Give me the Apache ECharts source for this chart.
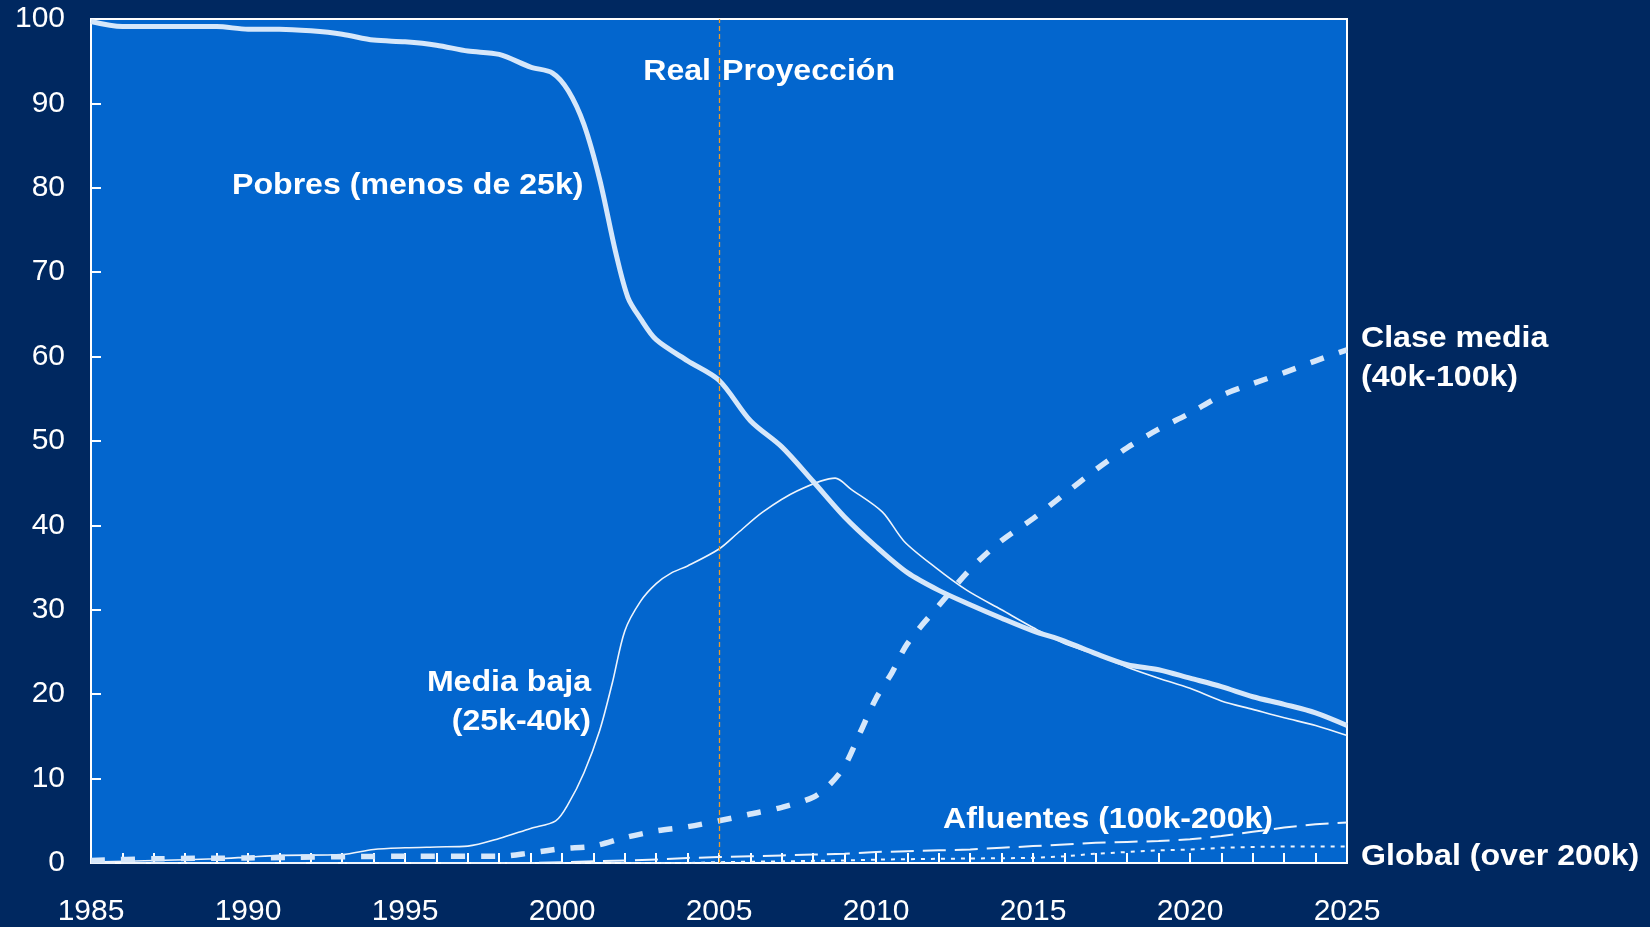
<!DOCTYPE html>
<html>
<head>
<meta charset="utf-8">
<script src="https://cdn.jsdelivr.net/npm/echarts@6.0.0/dist/echarts.min.js"></script>
<style>
  html, body { margin: 0; padding: 0; background: #002860; }
  #chart { width: 1650px; height: 927px; }
</style>
</head>
<body>
<div id="chart"></div>
<script>
// Datos: [año, porcentaje]
const pobres = [
  [1985, 99.7], [1986, 99.1], [1987, 99.1], [1988, 99.1], [1989, 99.1], [1990, 98.8],
  [1991, 98.8], [1992, 98.6], [1993, 98.2], [1994, 97.5], [1995, 97.3], [1996, 96.9],
  [1997, 96.2], [1998, 95.8], [1999, 94.3], [1999.7, 93.6], [2000.2, 91.5], [2000.7, 87.5],
  [2001.2, 81], [2001.7, 72.5], [2002.1, 67], [2002.5, 64.5], [2003, 62], [2004, 59.5],
  [2005, 57.2], [2006, 52.4], [2007, 49.3], [2008, 45.2], [2009, 41], [2010, 37.5],
  [2011, 34.4], [2012, 32.3], [2013, 30.6], [2014, 29], [2015, 27.5], [2016, 26.3],
  [2017, 24.8], [2018, 23.5], [2019, 22.9], [2020, 21.9], [2021, 20.9], [2022, 19.7],
  [2023, 18.8], [2024, 17.8], [2025, 16.3]
];

const mediaBaja = [
  [1985, 0.1], [1987, 0.3], [1989, 0.5], [1990, 0.7], [1991, 0.9], [1993, 1.0],
  [1994, 1.6], [1995, 1.8], [1996, 1.9], [1997, 2.0], [1998, 2.9], [1999, 4.1],
  [1999.8, 5], [2000.2, 7], [2000.7, 10.7], [2001.2, 15.7], [2001.6, 21.3], [2002, 27.5],
  [2002.5, 31], [2003, 33.1], [2003.5, 34.4], [2004, 35.2], [2005, 37.2], [2005.6, 39.1],
  [2006.4, 41.6], [2007.5, 44.1], [2008.7, 45.6], [2009.2, 44.3], [2010.2, 41.6],
  [2010.9, 38.1], [2011.9, 35], [2012.9, 32.3], [2014, 30], [2015, 27.9], [2016, 26],
  [2017, 24.7], [2018, 23.2], [2019, 21.9], [2020, 20.7], [2021, 19.2], [2022, 18.2],
  [2023, 17.2], [2024, 16.3], [2025, 15.1]
];

const claseMedia = [
  [1985, 0.3], [1987, 0.5], [1990, 0.6], [1995, 0.8], [1998, 0.8], [1999, 1.2],
  [2000, 1.7], [2001, 2.0], [2002, 3.0], [2003, 3.8], [2004, 4.3], [2005, 5.0],
  [2006, 5.8], [2007, 6.6], [2008, 7.8], [2008.5, 9.2], [2009, 11.5], [2009.5, 15.5],
  [2010, 19.5], [2010.5, 22.5], [2011, 26], [2012, 30.5], [2013, 34.8], [2014, 38.2],
  [2015, 40.8], [2016, 43.7], [2017, 46.6], [2018, 49.2], [2019, 51.4], [2020, 53.3],
  [2021, 55.4], [2022, 56.8], [2023, 58.1], [2024, 59.5], [2025, 60.8]
];

const afluentes = [
  [1985, 0], [1999, 0], [2000, 0.1], [2002, 0.3], [2003, 0.4], [2004, 0.6], [2005, 0.7],
  [2006, 0.8], [2007, 0.9], [2008, 1.0], [2009, 1.1], [2010, 1.3], [2011, 1.4],
  [2012, 1.5], [2013, 1.6], [2014, 1.8], [2015, 2.0], [2016, 2.2], [2017, 2.4],
  [2018, 2.5], [2019, 2.6], [2020, 2.8], [2021, 3.2], [2022, 3.7], [2023, 4.2],
  [2024, 4.6], [2025, 4.8]
];

const global = [
  [1985, 0], [2004, 0], [2005, 0.1], [2007, 0.2], [2009, 0.3], [2010, 0.4], [2012, 0.5],
  [2015, 0.6], [2016, 0.8], [2017, 1.1], [2018, 1.3], [2019, 1.5], [2020, 1.6],
  [2021, 1.8], [2022, 1.9], [2023, 1.95], [2025, 1.95]
];

const anioCorte = 2005;

const FONT = '"Liberation Sans", Arial, sans-serif';
const LIGHT = '#d6e7fa';
const THIN = '#eef4fc';

const myChart = echarts.init(document.getElementById('chart'));

// texto en negrita, algo ensanchado como en el original
const txt = (text, x, y, align) => ({
  type: 'text',
  x: x,
  y: y,
  scaleX: 1.07,
  style: {
    text: text,
    fill: '#ffffff',
    font: 'bold 30px ' + FONT,
    align: align || 'left',
    verticalAlign: 'middle'
  }
});

const option = {
  backgroundColor: '#002860',
  animation: false,
  grid: {
    left: 91, right: 303, top: 19, bottom: 63,
    show: true,
    backgroundColor: '#0366ce',
    borderColor: '#ffffff',
    borderWidth: 2
  },
  xAxis: {
    type: 'value',
    min: 1985,
    max: 2025,
    interval: 5,
    axisLine: { lineStyle: { color: '#ffffff', width: 2 } },
    axisTick: { inside: true, length: 10, lineStyle: { color: '#ffffff', width: 2 } },
    minorTick: { show: true, splitNumber: 5, length: 10, lineStyle: { color: '#ffffff', width: 2 } },
    splitLine: { show: false },
    axisLabel: {
      color: '#ffffff', fontSize: 30, fontFamily: FONT, margin: 34,
      formatter: v => String(v)
    }
  },
  yAxis: {
    type: 'value',
    min: 0,
    max: 100,
    interval: 10,
    axisLine: { show: true, lineStyle: { color: '#ffffff', width: 2 } },
    axisTick: { show: true, inside: true, length: 10, lineStyle: { color: '#ffffff', width: 2 } },
    splitLine: { show: false },
    axisLabel: { color: '#ffffff', fontSize: 30, fontFamily: FONT, margin: 26 }
  },
  series: [
    {
      name: 'Global (over 200k)',
      type: 'line',
      data: global,
      symbol: 'none',
      lineStyle: { color: THIN, width: 2, type: [4, 6] }
    },
    {
      name: 'Afluentes (100k-200k)',
      type: 'line',
      data: afluentes,
      symbol: 'none',
      lineStyle: { color: THIN, width: 2, type: [23, 9] }
    },
    {
      name: 'Media baja (25k-40k)',
      type: 'line',
      data: mediaBaja,
      symbol: 'none',
      smooth: 0.3,
      lineStyle: { color: THIN, width: 1.6 }
    },
    {
      name: 'Clase media (40k-100k)',
      type: 'line',
      data: claseMedia,
      symbol: 'none',
      smooth: 0.3,
      lineStyle: { color: LIGHT, width: 5.5, type: [14, 16] }
    },
    {
      name: 'Pobres (menos de 25k)',
      type: 'line',
      data: pobres,
      symbol: 'none',
      smooth: 0.3,
      lineStyle: { color: LIGHT, width: 5 },
      markLine: {
        silent: true,
        symbol: 'none',
        label: { show: false },
        lineStyle: { color: '#e89a28', width: 1.3, type: [5, 3], opacity: 1 },
        data: [{ xAxis: anioCorte }]
      }
    }
  ],
  graphic: [
    txt('Real', 711, 72, 'right'),
    txt('Proyección', 722, 72),
    txt('Pobres (menos de 25k)', 232, 186),
    txt('Media baja', 591, 683, 'right'),
    txt('(25k-40k)', 591, 722, 'right'),
    txt('Clase media', 1361, 339),
    txt('(40k-100k)', 1361, 378),
    txt('Afluentes (100k-200k)', 943, 820),
    txt('Global (over 200k)', 1361, 857)
  ]
};

myChart.setOption(option);
</script>
</body>
</html>
